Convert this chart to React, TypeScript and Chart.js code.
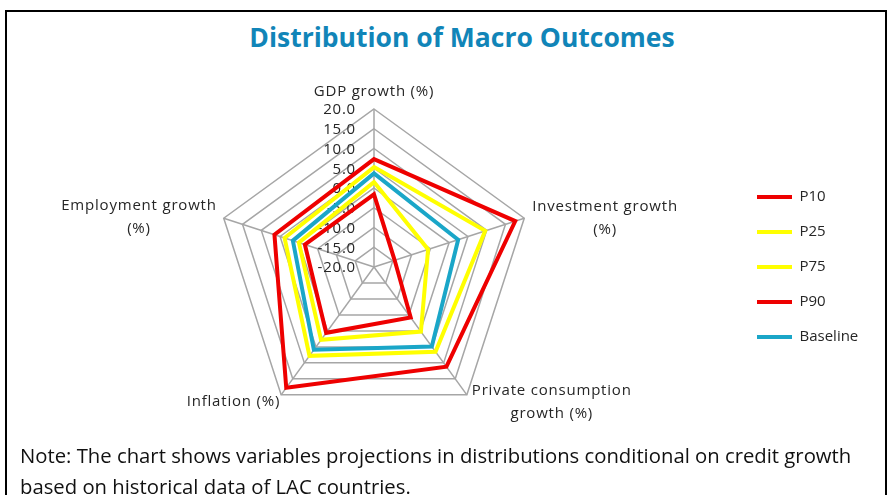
import React, { useEffect, useRef } from 'react';
import { Chart, registerables } from 'chart.js';

Chart.register(...registerables);

// ---- data ----
const axisLabels: string[][] = [
  ['GDP growth (%)'],
  ['Investment growth', '(%)'],
  ['Private consumption', 'growth (%)'],
  ['Inflation (%)'],
  ['Employment growth', '(%)'],
];
const seriesNames = ['P10', 'P25', 'P75', 'P90', 'Baseline'];
const p10 = [-1.6, -14.5, -4.2, 0.6, -1.6];
const p25 = [1.5, -5.6, 0.2, 2.8, 0.0];
const p75 = [5.3, 9.6, 6.5, 7.8, 3.8];
const p90 = [7.3, 17.6, 11.2, 17.8, 6.5];
const baseline = [3.7, 2.4, 4.9, 5.9, 1.6];
const tickMin = -20;
const tickMax = 20;
const tickStep = 5;

// ---- styles ----
const RED = '#ee0000';
const YELLOW = '#ffff00';
const BLUE = '#1aa6c8';
const TEXT = '#262626';
const GRID = '#a6a6a6';
const FONT = '"Open Sans", "Noto Sans", sans-serif';

// per-axis label placement relative to the outer vertex
const labelPlacement = [
  { align: 'center', dx: 0, dy: -17 },
  { align: 'left', dx: 8, dy: 0 },
  { align: 'left', dx: 5, dy: 7 },
  { align: 'right', dx: -1, dy: 7 },
  { align: 'right', dx: -7, dy: -1 },
];

const radarText = {
  id: 'radarText',
  beforeDatasetsDraw(chart: any) {
    const s = chart.scales.r;
    const ctx = chart.ctx as CanvasRenderingContext2D;
    ctx.save();
    ctx.font = `15px ${FONT}`;
    ctx.fillStyle = TEXT;
    try { (ctx as any).letterSpacing = '0.8px'; } catch (e) {}
    ctx.textBaseline = 'middle';
    ctx.textAlign = 'right';
    s.ticks.forEach((t: any) => {
      const d = s.getDistanceFromCenterForValue(t.value);
      ctx.fillText(Number(t.value).toFixed(1), s.xCenter - 18, s.yCenter - d + 1);
    });
    ctx.textAlign = 'center';
    axisLabels.forEach((lines, i) => {
      const p = s.getPointPosition(i, s.drawingArea);
      const pl = labelPlacement[i];
      const bw = Math.max(...lines.map((l) => ctx.measureText(l).width));
      let cx = p.x + pl.dx;
      if (pl.align === 'left') cx += bw / 2;
      else if (pl.align === 'right') cx -= bw / 2;
      const cy = p.y + pl.dy;
      lines.forEach((l, k) => {
        ctx.fillText(l, cx, cy + (k - (lines.length - 1) / 2) * 23);
      });
    });
    ctx.restore();
  },
};

export default function App() {
  const ref = useRef<HTMLCanvasElement | null>(null);

  useEffect(() => {
    if (!ref.current) return;
    Chart.defaults.font.family = FONT;
    const colors = [RED, YELLOW, YELLOW, RED, BLUE];
    const values = [p10, p25, p75, p90, baseline];
    const chart = new Chart(ref.current, {
      type: 'radar',
      data: {
        labels: axisLabels,
        datasets: seriesNames.map((name, i) => ({
          label: name,
          data: values[i],
          borderColor: colors[i],
          backgroundColor: colors[i],
          borderWidth: 4,
          borderJoinStyle: 'miter',
          borderCapStyle: 'round',
          fill: false,
          pointRadius: 0,
          pointHoverRadius: 0,
          tension: 0,
        })),
      },
      options: {
        responsive: false,
        maintainAspectRatio: false,
        animation: false,
        devicePixelRatio: 1,
        layout: { padding: { top: 109, bottom: 70, left: 11, right: 26 } },
        scales: {
          r: {
            min: tickMin,
            max: tickMax,
            ticks: { stepSize: tickStep, display: false },
            pointLabels: { display: false },
            grid: { color: GRID, lineWidth: 1.5 },
            angleLines: { color: GRID, lineWidth: 1.5 },
          },
        },
        plugins: {
          title: { display: false },
          tooltip: { enabled: false },
          legend: {
            position: 'right',
            align: 'center',
            maxWidth: 128,
            labels: {
              usePointStyle: true,
              pointStyle: 'line',
              pointStyleWidth: 35,
              padding: 20,
              color: TEXT,
              font: { size: 15, family: FONT },
            },
          },
        },
      } as any,
      plugins: [radarText],
    });
    return () => chart.destroy();
  }, []);

  return (
    <div style={{ position: 'fixed', left: 0, top: 0, width: 891, height: 495, overflow: 'hidden', background: '#fff' }}>
      <div style={{ position: 'absolute', left: 5, top: 10, width: 882, height: 600, border: '2px solid #000', boxSizing: 'border-box' }} />
      <div style={{ position: 'absolute', left: 0, top: 21, width: 924, textAlign: 'center', fontFamily: FONT, fontWeight: 700, fontSize: 26.5, lineHeight: '32px', color: '#1185b8', whiteSpace: 'nowrap' }}>
        Distribution of Macro Outcomes
      </div>
      <canvas ref={ref} width={891} height={495} style={{ position: 'absolute', left: 0, top: 0, width: 891, height: 495 }} />
      <div style={{ position: 'absolute', left: 20, top: 440, fontFamily: FONT, fontSize: 20.3, lineHeight: '31px', color: '#111', whiteSpace: 'nowrap' }}>
        Note: The chart shows variables projections in distributions conditional on credit growth
        <br />
        based on historical data of LAC countries.
      </div>
    </div>
  );
}
